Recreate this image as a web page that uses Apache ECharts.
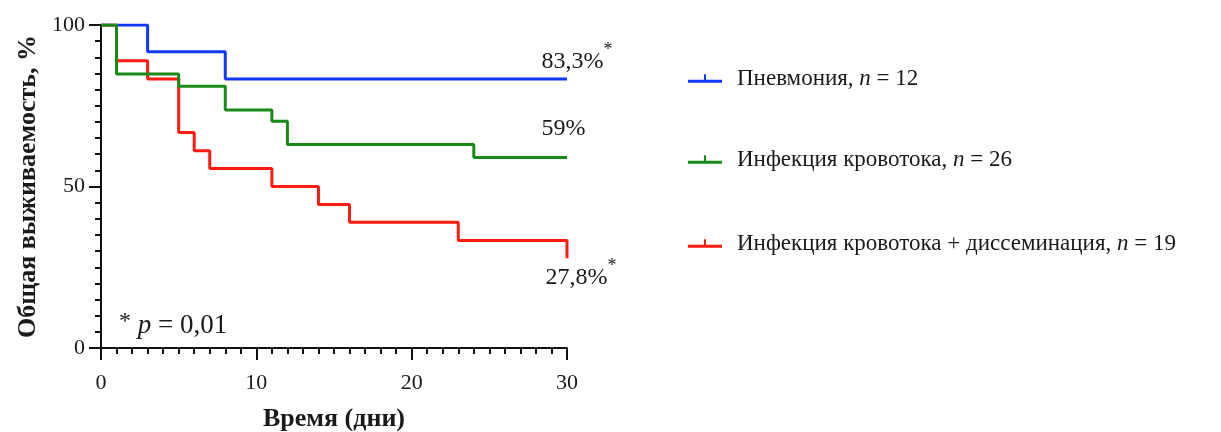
<!DOCTYPE html>
<html>
<head>
<meta charset="utf-8">
<script src="https://cdn.jsdelivr.net/npm/echarts@6/dist/echarts.min.js"></script>
<style>
  html, body { margin: 0; padding: 0; background: #ffffff; }
  #chart { width: 1221px; height: 432px; }
</style>
</head>
<body>
<div id="chart"></div>
<script>
// Kaplan–Meier survival, % by day
const pneumoniaDays = [0, 3, 8, 30];
const pneumoniaSurv = [100, 91.7, 83.3, 83.3];

const bsiDays = [0, 1, 5, 8, 11, 12, 24, 30];
const bsiSurv = [100, 84.8, 81, 73.7, 70.2, 63, 59, 59];

const dissDays = [0, 1, 3, 5, 6, 7, 11, 14, 16, 23, 30];
const dissSurv = [100, 88.9, 83.3, 66.7, 61.1, 55.6, 50, 44.4, 38.9, 33.3, 27.8];

const groupNames = ['Пневмония', 'Инфекция кровотока', 'Инфекция кровотока + диссеминация'];
const groupN = [12, 26, 19];
const endStar = [true, false, true];

const xTicks = [0, 10, 20, 30];
const yTicks = [0, 50, 100];

const FONT = '"Liberation Serif", "DejaVu Serif", serif';
const colors = ['#1238ff', '#178a17', '#ff1a12'];

const seriesNames = groupNames.map((g, i) => g + ', n = ' + groupN[i]);

function pairs(days, surv) { return days.map((d, i) => [d, surv[i]]); }
function pct(v) { return String(Math.round(v * 10) / 10).replace('.', ',') + '%'; }

// label offsets (px) of the final-value text relative to the curve end
const labelPos = [[-25, -21], [-25, -32], [-21, 16]];

function makeSeries(i, days, surv) {
  const last = surv[surv.length - 1];
  const lastDay = days[days.length - 1];
  return {
    name: seriesNames[i],
    type: 'line',
    step: 'end',
    symbol: 'none',
    color: colors[i],
    itemStyle: { color: colors[i] },
    lineStyle: { color: colors[i], width: 3 },
    data: pairs(days, surv),
    animation: false,
    markPoint: {
      symbol: 'circle',
      symbolSize: 1,
      itemStyle: { color: 'rgba(0,0,0,0)' },
      data: [{ coord: [lastDay, last], value: last }],
      label: {
        show: true,
        position: labelPos[i],
        align: 'left',
        verticalAlign: 'middle',
        formatter: p => '{t|' + pct(p.value) + '}' + (endStar[i] ? '{s|*}' : ''),
        rich: {
          t: { fontFamily: FONT, fontSize: 24, color: '#1a1a1a', lineHeight: 32, verticalAlign: 'bottom' },
          s: { fontFamily: FONT, fontSize: 18, color: '#1a1a1a', lineHeight: 18, verticalAlign: 'top' }
        }
      }
    }
  };
}

const legendTops = [67, 148, 232];
const legends = seriesNames.map((n, i) => ({
  data: [n],
  left: 688,
  top: legendTops[i],
  padding: 0,
  orient: 'vertical',
  selectedMode: false,
  itemWidth: 34,
  itemHeight: 10,
  icon: 'path://M0,6.5L34,6.5L34,9.5L0,9.5Z M16,1L18,1L18,7L16,7Z',
  formatter: name => name.replace(', n = ', ', {i|n} = '),
  textStyle: {
    fontFamily: FONT, fontSize: 23, color: '#1a1a1a', padding: [0, 0, 0, 10],
    rich: { i: { fontFamily: FONT, fontSize: 23, fontStyle: 'italic', color: '#1a1a1a' } }
  }
}));

const axisCommon = {
  axisLine: { show: true, lineStyle: { color: '#111', width: 2 } },
  axisTick: { show: true, length: 12, lineStyle: { color: '#111', width: 2 } },
  minorTick: { show: true, length: 6, lineStyle: { color: '#111', width: 2 } },
  splitLine: { show: false },
  minorSplitLine: { show: false },
  axisLabel: { fontFamily: FONT, fontSize: 22, color: '#1a1a1a' },
  nameLocation: 'middle',
  nameTextStyle: { fontFamily: FONT, fontSize: 26, fontWeight: 'bold', color: '#1a1a1a' }
};

const chart = echarts.init(document.getElementById('chart'), null, { renderer: 'canvas' });
chart.setOption({
  backgroundColor: '#ffffff',
  animation: false,
  grid: { left: 101, right: 654, top: 25, bottom: 84, containLabel: false, outerBoundsMode: 'none' },
  legend: legends,
  xAxis: Object.assign({}, axisCommon, {
    type: 'value',
    min: xTicks[0], max: xTicks[xTicks.length - 1], interval: xTicks[1] - xTicks[0],
    minorTick: Object.assign({}, axisCommon.minorTick, { splitNumber: 10 }),
    axisLabel: Object.assign({}, axisCommon.axisLabel, { margin: 24 }),
    name: 'Время (дни)',
    nameGap: 58
  }),
  yAxis: Object.assign({}, axisCommon, {
    type: 'value',
    min: yTicks[0], max: yTicks[yTicks.length - 1], interval: yTicks[1] - yTicks[0],
    minorTick: Object.assign({}, axisCommon.minorTick, { splitNumber: 10 }),
    axisLabel: Object.assign({}, axisCommon.axisLabel, { margin: 16 }),
    name: 'Общая выживаемость, %',
    nameGap: 60
  }),
  graphic: [{
    type: 'text',
    left: 119,
    top: 310,
    style: {
      text: '{a|*} {i|p} = 0,01',
      fontFamily: FONT, fontSize: 27, fill: '#1a1a1a',
      rich: {
        a: { fontFamily: FONT, fontSize: 24, verticalAlign: 'top', lineHeight: 32 },
        i: { fontFamily: FONT, fontSize: 27, fontStyle: 'italic', lineHeight: 32 }
      }
    }
  }],
  series: [
    makeSeries(0, pneumoniaDays, pneumoniaSurv),
    makeSeries(2, dissDays, dissSurv),
    makeSeries(1, bsiDays, bsiSurv)
  ]
});
</script>
</body>
</html>
